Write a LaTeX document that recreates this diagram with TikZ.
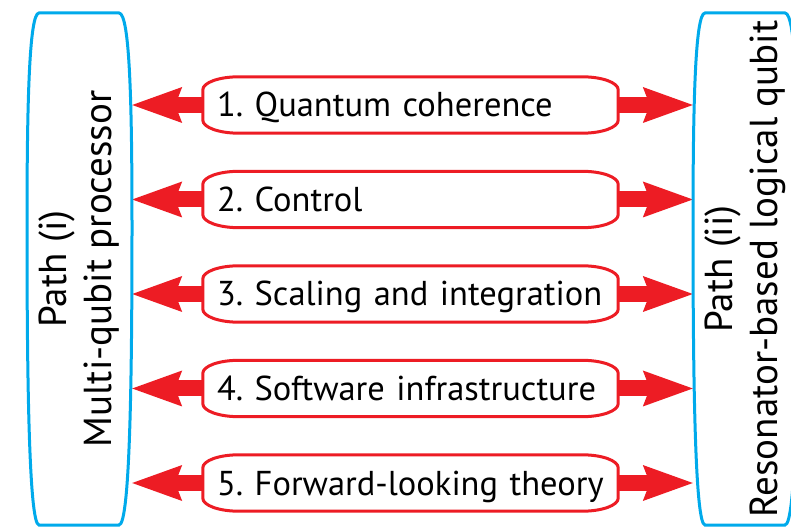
\documentclass[tikz,border=0pt]{standalone}
\usepackage{fontspec}
\setmainfont{PT Sans}
\usetikzlibrary{arrows.meta,backgrounds,calc}
\definecolor{pathblue}{RGB}{0,170,235}
\definecolor{linkred}{RGB}{237,28,36}
\tikzset{
  pathframe/.style={draw=pathblue,line width=3pt},
  topicframe/.style={draw=linkred,line width=3pt,fill=white},
  bighead/.tip={Stealth[length=50pt,width=36pt,inset=7pt,line width=0pt]},
  link/.style={draw=linkred,line width=16pt,{bighead}-{bighead}},
  topic/.style={minimum width=415pt,minimum height=56pt,inner xsep=14pt,inner ysep=0pt,
    text width=387pt,align=left,text height=24pt,text depth=0pt,
    execute at begin node=\frenchspacing,
    font=\fontsize{34.5}{40}\selectfont},
  pathlabel/.style={rotate=90,align=center,font=\fontsize{39}{45}\selectfont},
  pathbox/.style={inner sep=0pt,minimum width=105pt,minimum height=512pt},
}
% one unbroken line of topic text
\newcommand\oneline[1]{\hbox to 387pt{#1\hss}}
% rounded frame with elliptic corners around a topic node
\newcommand\drawtopic[1]{%
  \draw[topicframe] let \p1=(#1.south west), \p2=(#1.north east) in
    (\x1,\y1+13pt) -- (\x1,\y2-13pt)
    arc[start angle=180,end angle=90,x radius=36pt,y radius=13pt]
    -- (\x2-36pt,\y2)
    arc[start angle=90,end angle=0,x radius=36pt,y radius=13pt]
    -- (\x2,\y1+13pt)
    arc[start angle=0,end angle=-90,x radius=36pt,y radius=13pt]
    -- (\x1+36pt,\y1)
    arc[start angle=270,end angle=180,x radius=36pt,y radius=13pt]
    -- cycle;}
\begin{document}
\begin{tikzpicture}[x=1pt,y=1pt]
  \useasboundingbox (0,0) rectangle (791,527);
  \clip (0,0) rectangle (791,527);

  % the two paths
  \node[pathbox] (L) at (79.5,258) {};
  \node[pathbox] (R) at (745.5,258) {};
  \foreach \s in {0,666} {
    \draw[pathframe,xshift=\s pt] (39,514) -- (119,514)
      .. controls (130,514) and (132,420) .. (132,300)
      .. controls (132,150) and (130,2) .. (119,2) -- (39,2)
      .. controls (29,2) and (27,150) .. (27,300)
      .. controls (27,420) and (29,514) .. (39,514) -- cycle;
  }
  \node[pathlabel] (Lt) at (L.center) {Path (i)\\Multi-qubit processor};
  \node[pathlabel] (Rt) at (R.center) {Path (ii)\\Resonator-based logical qubit};

  % the five shared topics
  \node[topic] (b1) at (410.5,422)   {\oneline{1. Quantum coherence}};
  \node[topic] (b2) at (410.5,327.5) {\oneline{2. Control}};
  \node[topic] (b3) at (410.5,233)   {\oneline{3. Scaling and integration}};
  \node[topic] (b4) at (410.5,138.5) {\oneline{4. Software infrastructure}};
  \node[topic] (b5) at (410.5,44)    {\oneline{5. Forward-looking theory}};

  \begin{pgfonlayer}{background}
    \fill[white] (0,0) rectangle (791,527);
    \foreach \b in {b1,b2,b3,b4,b5} {
      \draw[link] (L.east |- \b.center) -- (R.west |- \b.center);
      \drawtopic{\b}
    }
  \end{pgfonlayer}
\end{tikzpicture}
\end{document}
